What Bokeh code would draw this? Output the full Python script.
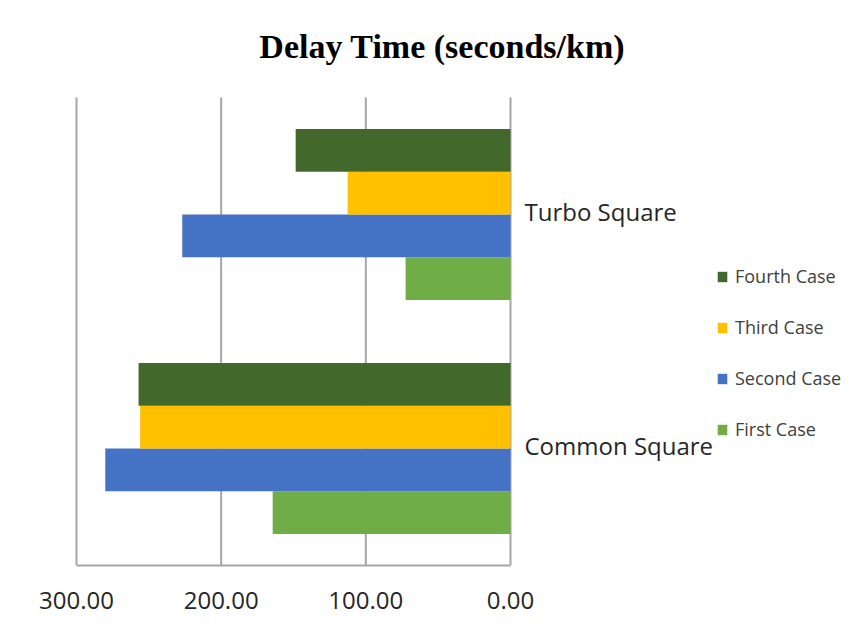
from bokeh.plotting import figure
from bokeh.models import Range1d, Legend, LegendItem, FixedTicker, NumeralTickFormatter, Label
from bokeh.core.properties import value
from bokeh.embed import file_html
from bokeh.resources import INLINE

# ---- data ----
categories = ["Common Square", "Turbo Square"]   # bottom to top
series_names = ["First Case", "Second Case", "Third Case", "Fourth Case"]
first_case = [164.4, 72.5]
second_case = [280.1, 226.9]
third_case = [256.0, 112.6]
fourth_case = [257.1, 148.5]
x_ticks = [0, 100, 200, 300]
title_text = "Delay Time  (seconds/km)"

colors = {"First Case": "#70AD47", "Second Case": "#4472C4",
          "Third Case": "#FFC000", "Fourth Case": "#43682B"}
values = {"First Case": first_case, "Second Case": second_case,
          "Third Case": third_case, "Fourth Case": fourth_case}

# ---- layout (pixels) ----
W, H = 845, 618
plot_left, plot_right = 76, 510      # x = 300 ... x = 0
plot_top, plot_bottom = 97, 565
scale = (plot_right - plot_left) / 300.0
x_start = 300 + plot_left / scale
x_end = -(W - plot_right) / scale
n_cat = len(categories)
band_px = (plot_bottom - plot_top) / n_cat
y_end = n_cat + plot_top / band_px

p = figure(width=W, height=H, output_backend="svg", toolbar_location=None,
           title=None, x_range=Range1d(x_start, x_end), y_range=Range1d(0, y_end),
           y_axis_location=None,
           min_border_left=0, min_border_right=0, min_border_top=0,
           min_border_bottom=H - plot_bottom)
p.outline_line_color = None
p.background_fill_color = "white"
p.border_fill_color = "white"
p.xgrid.grid_line_color = None
p.ygrid.grid_line_color = None

# gridlines from tick values
p.segment(x0=x_ticks, y0=[0] * len(x_ticks), x1=x_ticks, y1=[n_cat] * len(x_ticks),
          line_color="#A6A6A6", line_width=2)

bar_h = 0.1825
offsets = {"First Case": -1.5 * bar_h, "Second Case": -0.5 * bar_h,
           "Third Case": 0.5 * bar_h, "Fourth Case": 1.5 * bar_h}
renderers = {}
for name in series_names:
    ys = [i + 0.5 + offsets[name] for i in range(n_cat)]
    r = p.hbar(y=ys, height=bar_h, left=0, right=values[name],
               fill_color=colors[name], line_color=None)
    renderers[name] = r

# category labels next to the zero line
p.text(x=[0] * n_cat, y=[i + 0.5 for i in range(n_cat)], text=categories,
       x_offset=14, y_offset=-3, text_font=value("Open Sans"), text_font_size="24px",
       text_baseline="middle", text_align="left", text_color="#262626")

# x axis
xa = p.xaxis[0]
xa.ticker = FixedTicker(ticks=x_ticks)
xa.bounds = (0, 300)
xa.formatter = NumeralTickFormatter(format="0.00")
xa.axis_line_color = "#A6A6A6"
xa.axis_line_width = 2
xa.major_tick_line_color = None
xa.minor_tick_line_color = None
xa.major_tick_out = 0
xa.major_tick_in = 0
xa.major_label_standoff = 26
xa.major_label_text_line_height = 0.8
xa.major_label_text_font = "Open Sans"
xa.major_label_text_font_size = "24px"
xa.major_label_text_color = "#262626"

# legend
items = [LegendItem(label=n, renderers=[renderers[n]]) for n in
         ["Fourth Case", "Third Case", "Second Case", "First Case"]]
legend = Legend(items=items, location=(716, 123), orientation="vertical",
                label_text_font="Open Sans", label_text_font_size="18px",
                label_text_color="#404040", glyph_width=12, glyph_height=13,
                label_height=26, spacing=25, padding=0, margin=0,
                border_line_color=None, background_fill_alpha=0, label_standoff=7)
p.add_layout(legend, "center")

# title
t = Label(x=446, y=plot_bottom - 46, x_units="screen", y_units="screen", text=title_text,
          text_font="Liberation Serif", text_font_style="bold", text_font_size="34px",
          text_align="center", text_baseline="alphabetic", text_color="black")
p.add_layout(t)

open("out.html", "w").write(file_html(p, INLINE))
